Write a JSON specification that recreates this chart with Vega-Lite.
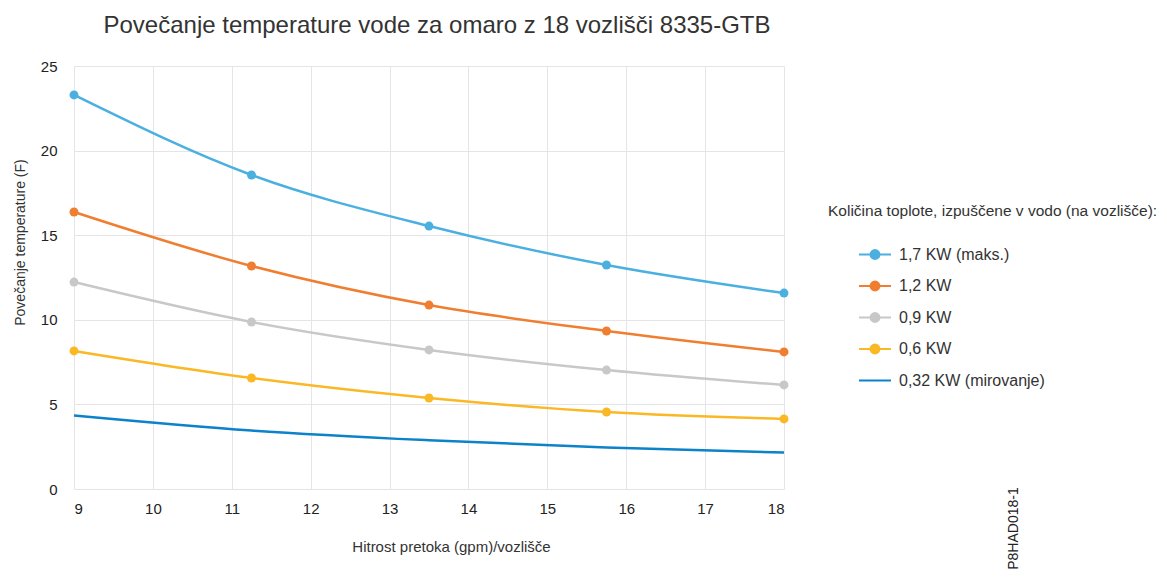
{
  "$schema": "https://vega.github.io/schema/vega-lite/v6.json",
  "width": 710,
  "height": 423,
  "autosize": {"type": "none"},
  "padding": {"left": 74, "top": 66, "right": 383, "bottom": 90},
  "background": "white",
  "config": {
    "font": "Liberation Sans",
    "view": {"stroke": null}
  },
  "title": {
    "text": "Povečanje temperature vode za omaro z 18 vozlišči 8335-GTB",
    "font": "Liberation Sans",
    "fontSize": 24,
    "fontWeight": "normal",
    "color": "#333333",
    "anchor": "middle",
    "frame": "group",
    "dx": 8,
    "offset": 21
  },
  "data": {
    "values": [
      {"x": 9, "value": 23.29, "series": "1,7 KW (maks.)"},
      {"x": 11.25, "value": 18.56, "series": "1,7 KW (maks.)"},
      {"x": 13.5, "value": 15.54, "series": "1,7 KW (maks.)"},
      {"x": 15.75, "value": 13.24, "series": "1,7 KW (maks.)"},
      {"x": 18, "value": 11.58, "series": "1,7 KW (maks.)"},
      {"x": 9, "value": 16.37, "series": "1,2 KW"},
      {"x": 11.25, "value": 13.18, "series": "1,2 KW"},
      {"x": 13.5, "value": 10.87, "series": "1,2 KW"},
      {"x": 15.75, "value": 9.34, "series": "1,2 KW"},
      {"x": 18, "value": 8.1, "series": "1,2 KW"},
      {"x": 9, "value": 12.23, "series": "0,9 KW"},
      {"x": 11.25, "value": 9.87, "series": "0,9 KW"},
      {"x": 13.5, "value": 8.22, "series": "0,9 KW"},
      {"x": 15.75, "value": 7.03, "series": "0,9 KW"},
      {"x": 18, "value": 6.15, "series": "0,9 KW"},
      {"x": 9, "value": 8.16, "series": "0,6 KW"},
      {"x": 11.25, "value": 6.56, "series": "0,6 KW"},
      {"x": 13.5, "value": 5.38, "series": "0,6 KW"},
      {"x": 15.75, "value": 4.55, "series": "0,6 KW"},
      {"x": 18, "value": 4.14, "series": "0,6 KW"},
      {"x": 9, "value": 4.35, "series": "0,32 KW (mirovanje)"},
      {"x": 11.25, "value": 3.46, "series": "0,32 KW (mirovanje)"},
      {"x": 13.5, "value": 2.88, "series": "0,32 KW (mirovanje)"},
      {"x": 15.75, "value": 2.45, "series": "0,32 KW (mirovanje)"},
      {"x": 18, "value": 2.15, "series": "0,32 KW (mirovanje)"}
    ]
  },
  "resolve": {"scale": {"y": "independent"}, "axis": {"y": "independent"}},
  "layer": [
    {
      "encoding": {
        "x": {
          "field": "x",
          "type": "quantitative",
          "scale": {"domain": [9, 18], "nice": false, "zero": false},
          "axis": {
            "title": "Hitrost pretoka (gpm)/vozlišče",
            "values": [9, 10, 11, 12, 13, 14, 15, 16, 17, 18],
            "format": "d",
            "domain": false,
            "ticks": false,
            "grid": true,
            "gridColor": "#E4E4E9",
            "gridWidth": 1,
            "labelFont": "Liberation Sans",
            "labelFontSize": 15,
            "labelColor": "#222222",
            "labelPadding": 12,
            "titleFont": "Liberation Sans",
            "titleFontSize": 15,
            "titleFontWeight": "normal",
            "titleColor": "#333333",
            "titlePadding": 23,
            "titleX": 377
          }
        },
        "y": {
          "field": "value",
          "type": "quantitative",
          "scale": {"domain": [0, 25], "nice": false},
          "axis": {
            "orient": "left",
            "title": "Povečanje temperature (F)",
            "values": [0, 5, 10, 15, 20, 25],
            "domain": false,
            "ticks": false,
            "grid": true,
            "gridColor": "#E4E4E9",
            "gridWidth": 1,
            "labelFont": "Liberation Sans",
            "labelFontSize": 15,
            "labelColor": "#222222",
            "labelPadding": 17,
            "titleFont": "Liberation Sans",
            "titleFontSize": 14,
            "titleFontWeight": "normal",
            "titleColor": "#333333",
            "titlePadding": 13,
            "titleY": 176
          }
        },
        "color": {
          "field": "series",
          "type": "nominal",
          "scale": {
            "domain": ["1,7 KW (maks.)", "1,2 KW", "0,9 KW", "0,6 KW", "0,32 KW (mirovanje)"],
            "range": ["#4BB0E0", "#F07E30", "#C8C8C8", "#FAB825", "#0C82CA"]
          },
          "legend": {
            "orient": "none",
            "legendX": 754,
            "legendY": 138,
            "title": "Količina toplote, izpuščene v vodo (na vozlišče):",
            "titleFont": "Liberation Sans",
            "titleFontSize": 15.5,
            "titleFontWeight": "normal",
            "titleColor": "#333333",
            "titlePadding": 18,
            "titleLimit": 420,
            "labelFont": "Liberation Sans",
            "labelFontSize": 16,
            "labelColor": "#333333",
            "symbolSize": 1024,
            "symbolOffset": 30,
            "labelOffset": 7,
            "symbolStrokeWidth": 2,
            "rowPadding": 5.5,
            "encode": {
              "symbols": {
                "update": {
                  "shape": {"signal": "datum.value === '0,32 KW (mirovanje)' ? 'M-1,0H1' : 'M-1,0H1M0.28,0A0.28,0.28,0,1,1,-0.28,0A0.28,0.28,0,1,1,0.28,0Z'"},
                  "fill": {"scale": "color", "field": "value"},
                  "stroke": {"scale": "color", "field": "value"},
                  "strokeWidth": {"value": 2},
                  "opacity": {"value": 1},
                  "fillOpacity": {"value": 1},
                  "strokeOpacity": {"value": 1}
                }
              }
            }
          }
        }
      },
      "layer": [
        {
          "mark": {"type": "line", "interpolate": "monotone", "strokeWidth": 2.5}
        },
        {
          "transform": [{"filter": "datum.series !== '0,32 KW (mirovanje)'"}],
          "mark": {"type": "point", "filled": true, "size": 80, "opacity": 1, "shape": "circle"}
        }
      ]
    },
    {
      "data": {"values": [{"code": "P8HAD018-1", "v": 0}]},
      "mark": {"type": "point", "opacity": 0},
      "encoding": {
        "x": {"datum": 9, "type": "quantitative"},
        "y": {
          "field": "v",
          "type": "quantitative",
          "scale": {"domain": [0, 1]},
          "axis": {
            "orient": "right",
            "title": "P8HAD018-1",
            "labels": false,
            "ticks": false,
            "domain": false,
            "grid": false,
            "titleAngle": 270,
            "titleAlign": "center",
            "titleBaseline": "middle",
            "titleX": 229,
            "titleY": 462,
            "titleFont": "Liberation Sans",
            "titleFontSize": 14,
            "titleFontWeight": "normal",
            "titleColor": "#222222"
          }
        }
      }
    }
  ]
}
